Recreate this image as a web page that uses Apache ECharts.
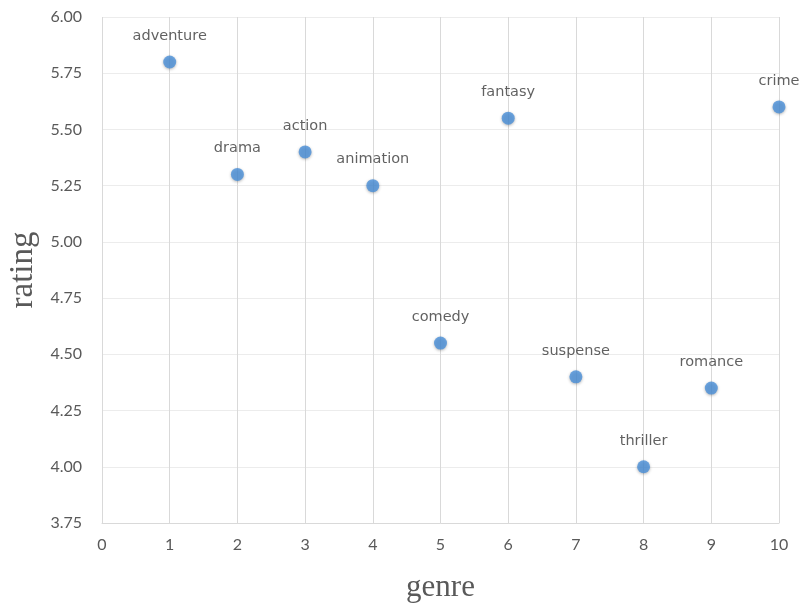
<!DOCTYPE html>
<html>
<head>
<meta charset="utf-8">
<script src="https://cdn.jsdelivr.net/npm/echarts@6/dist/echarts.min.js"></script>
<style>html,body{margin:0;padding:0;background:#fff;}#c{width:803px;height:603px;}</style>
</head>
<body>
<div id="c"></div>
<script>
const genres = ['adventure','drama','action','animation','comedy','fantasy','suspense','thriller','romance','crime'];
const genreIndex = [1,2,3,4,5,6,7,8,9,10];
const ratings = [5.80,5.30,5.40,5.25,4.55,5.55,4.40,4.00,4.35,5.60];

const data = genreIndex.map((x,i)=>({value:[x, ratings[i]], name: genres[i]}));
const chart = echarts.init(document.getElementById('c'));
chart.setOption({
  animation:false,
  backgroundColor:'#fff',
  grid:{left:102,right:24,top:17,bottom:80,containLabel:false,outerBoundsMode:'none'},
  xAxis:{
    type:'value',min:0,max:10,interval:1,
    name:'genre',nameLocation:'middle',nameGap:49,
    nameTextStyle:{fontFamily:'Liberation Serif',fontSize:31,color:'#595959'},
    axisLine:{show:true,lineStyle:{color:'#d9d9d9'}},
    axisTick:{show:false},
    axisLabel:{color:'#595959',fontSize:16,fontFamily:'Lato',margin:14},
    splitLine:{show:true,lineStyle:{color:'#d9d9d9',width:1}}
  },
  yAxis:{
    type:'value',min:3.75,max:6,interval:0.25,
    name:'rating',nameLocation:'middle',nameGap:61,
    nameTextStyle:{fontFamily:'Liberation Serif',fontSize:33,color:'#595959'},
    axisLine:{show:false},
    axisTick:{show:false},
    axisLabel:{color:'#595959',fontSize:16,fontFamily:'Lato',margin:20,formatter:v=>v.toFixed(2)},
    splitLine:{show:true,lineStyle:{color:'#ececec',width:1}}
  },
  series:[{
    type:'scatter',
    data:data,
    symbolSize:13,
    itemStyle:{color:'#4a90d9',shadowBlur:3,shadowColor:'rgba(0,0,0,0.35)',shadowOffsetY:1},
    label:{show:true,position:'top',distance:12,formatter:p=>p.name,color:'#3a3a3a',fontSize:14.5,fontFamily:'DejaVu Sans'}
  }]
});
</script>
</body>
</html>
